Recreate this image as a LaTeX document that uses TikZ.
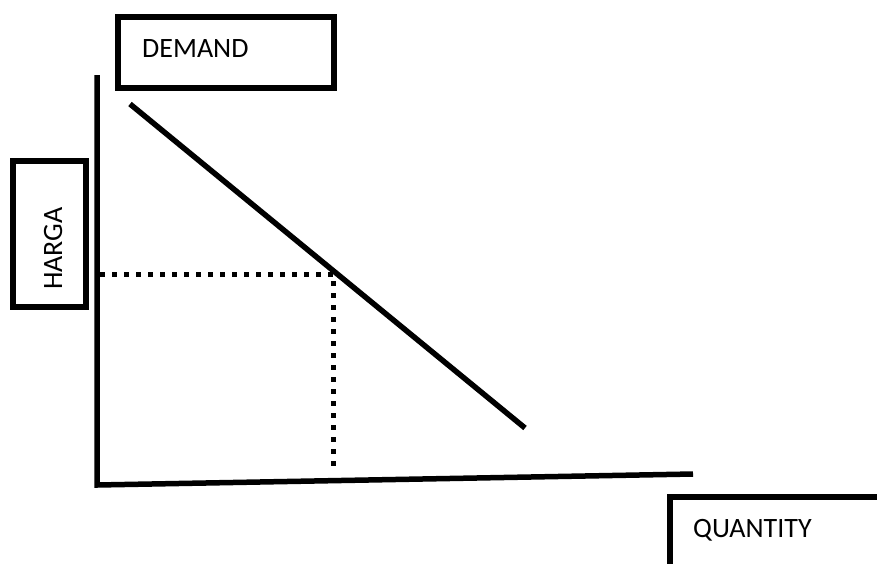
\documentclass[tikz,border=0pt]{standalone}
\usepackage{fontspec}
\setmainfont{Carlito}
\begin{document}
\begin{tikzpicture}[x=1pt,y=-1pt,
  boxline/.style={line width=6pt},
  axisline/.style={line width=5.5pt},
  guide/.style={line width=5pt, dash pattern=on 5pt off 7pt},
  lbl/.style={font=\fontsize{28}{33}\selectfont, inner sep=0pt}]
\useasboundingbox (0,0) rectangle (877,563);
% boxes
\draw[boxline] (118,17) rectangle (334,88);
\node[lbl, anchor=base west] (demand) at (142,57) {DEMAND};
\draw[boxline] (13,161) rectangle (86,307);
\node[lbl, rotate=90, anchor=base west] (harga) at (62,290) {HARGA};
\draw[boxline] (670,566) -- (670,497) -- (880,497);
\node[lbl, anchor=base west] (qty) at (693,537) {QUANTITY};
% axes
\coordinate (ytop) at (97,75);
\coordinate (O) at (97,485);
\coordinate (xend) at (693,474);
\draw[axisline] (ytop) -- (O) -- (xend);
% demand line
\coordinate (d1) at (130,104);
\coordinate (d2) at (525,428);
\draw[axisline] (d1) -- (d2);
% guides
\coordinate (gy) at (100,274);
\coordinate (P) at (333,274);
\coordinate (gx) at (333,470);
\draw[guide] (gy) -- (P) -- (gx);
\end{tikzpicture}
\end{document}
